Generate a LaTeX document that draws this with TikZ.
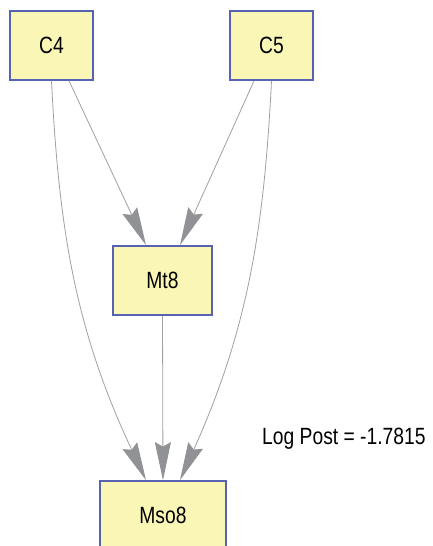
\documentclass[tikz,border=0pt]{standalone}
\usepackage{fontspec}
\setmainfont{Liberation Sans}[FakeStretch=0.82]
\usetikzlibrary{arrows.meta}
\definecolor{boxfill}{RGB}{250,247,182}
\definecolor{boxline}{RGB}{88,98,178}
\definecolor{edgeline}{RGB}{160,160,162}
\definecolor{tipfill}{RGB}{145,146,150}
\tikzset{
  box/.style={draw=boxline, fill=boxfill, line width=1.7pt, inner sep=0pt,
    minimum height=69pt, font=\fontsize{23.5}{28}\selectfont},
  edge/.style={draw=edgeline, line width=0.8pt,
    -{Stealth[length=38pt, width=16pt, inset=4.5pt, fill=tipfill, color=tipfill]}},
  caption/.style={font=\fontsize{23.5}{28}\selectfont, inner sep=0pt}
}
\begin{document}
\begin{tikzpicture}[x=1pt, y=-1pt]
  \clip (0,0) rectangle (433,546);
  \fill[white] (0,0) rectangle (433,546);

  % nodes of the network
  \node[box, minimum width=83pt] (C4) at (51.5,45.5) {C4};
  \node[box, minimum width=83pt] (C5) at (271.5,45.5) {C5};
  \node[box, minimum width=99pt] (Mt8) at (162.5,280.5) {Mt8};
  \node[box, minimum width=126pt] (Mso8) at (163,515.5) {Mso8};

  % score of the structure
  \node[caption, anchor=base west] (score) at (262,444) {Log Post = -1.7815};

  % arcs
  \draw[edge] ([xshift=17.5pt]C4.south) -- ([xshift=-16.5pt]Mt8.north);
  \draw[edge] ([xshift=-17.5pt]C5.south) -- ([xshift=17.5pt]Mt8.north);
  \draw[edge] (Mt8.south) -- (Mso8.north);
  \draw[edge] (C4.south) .. controls +(7.5,150) and +(-70.5,-150) .. ([xshift=-17pt]Mso8.north);
  \draw[edge] (C5.south) .. controls +(-7.5,150) and +(67.5,-150) .. ([xshift=17pt]Mso8.north);
\end{tikzpicture}
\end{document}
